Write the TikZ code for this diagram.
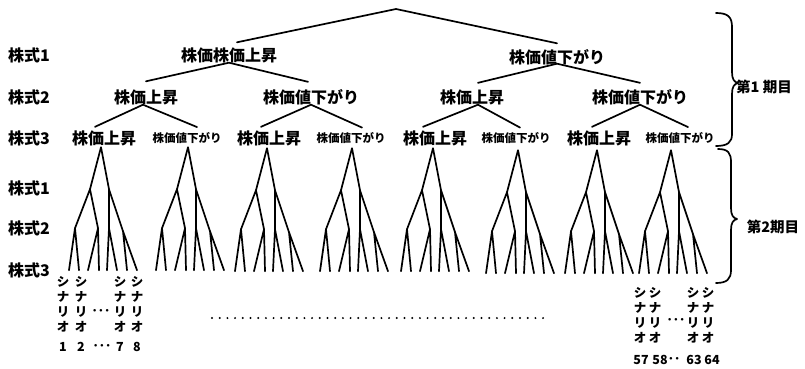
\documentclass[tikz,border=0pt]{standalone}
\usepackage{fontspec}
\setmainfont{Noto Sans CJK JP}
\usetikzlibrary{calc}
\newcommand\minitree[1]{%
\begin{scope}[shift={(#1)}]
\draw[tl] (-11,42) -- (0,0) -- (8,42);
\draw[tl] (-26,81) -- (-11,42) -- (-3,81);
\draw[tl] (8,81) -- (8,42) -- (22,84);
\draw[tl] (-32,123) -- (-26,81) -- (-22,123);
\draw[tl] (-13,123) -- (-3,81) -- (-2,123);
\draw[tl] (6,123) -- (8,81) -- (16,123);
\draw[tl] (26,123) -- (22,84) -- (36,123);
\end{scope}}
\newcommand\scencol[3]{%
\node[sc] (#1a) at (#2,#3) {シ};
\node[sc] (#1b) at (#2,#3+15) {ナ};
\node[sc] (#1c) at (#2,#3+30) {リ};
\node[sc] (#1d) at (#2,#3+45) {オ};}
\begin{document}
\begin{tikzpicture}[x=1pt,y=-1pt,
  tl/.style={line width=1.7pt,line cap=round,line join=round},
  big/.style={font=\fontsize{16}{16}\selectfont\bfseries,inner sep=0pt,text height=14.08pt,text depth=1.92pt},
  small/.style={font=\fontsize{11.5}{11.5}\selectfont\bfseries,inner sep=0pt,text height=10.12pt,text depth=1.38pt},
  per/.style={font=\fontsize{14.5}{14.5}\selectfont\bfseries,inner sep=0pt},
  sc/.style={font=\fontsize{12.5}{12.5}\selectfont\bfseries,inner sep=0pt}]
\useasboundingbox (0,0) rectangle (805,368);
% left labels
\node[big,anchor=west] (k1) at (8,55) {株式1};
\node[big,anchor=west] (k2) at (8,97) {株式2};
\node[big,anchor=west] (k3) at (8,138) {株式3};
\node[big,anchor=west] (k4) at (8,188) {株式1};
\node[big,anchor=west] (k5) at (8,228) {株式2};
\node[big,anchor=west] (k6) at (8,270) {株式3};
% upper tree
\coordinate (root) at (396,9);
\node[big] (A) at (229,55) {株価株価上昇};
\node[big] (B) at (557,57) {株価値下がり};
\node[big] (AA) at (146,97) {株価上昇};
\node[big] (AB) at (311,97) {株価値下がり};
\node[big] (BA) at (472,97) {株価上昇};
\node[big] (BB) at (640,97) {株価値下がり};
\node[big] (c1) at (104,138) {株価上昇};
\node[small] (c2) at (187,138) {株価値下がり};
\node[big] (c3) at (269,138) {株価上昇};
\node[small] (c4) at (351,138) {株価値下がり};
\node[big] (c5) at (435,138) {株価上昇};
\node[small] (c6) at (516,138) {株価値下がり};
\node[big] (c7) at (599,138) {株価上昇};
\node[small] (c8) at (680,138) {株価値下がり};
\draw[tl] ($(A.north)+(8,-4.5)$) -- (root) -- ($(B.north)+(0,-5.5)$);
\draw[tl] ($(AA.north)+(0,-7.5)$) -- ($(A.south)+(0,-0.5)$) -- ($(AB.north)+(-3,-7)$);
\draw[tl] ($(BA.north)+(6,-6)$) -- ($(B.south)+(0,-1.5)$) -- ($(BB.north)+(0,-6)$);
\draw[tl] ($(c1.north)+(-9,-3)$) -- ($(AA.south)+(-3,-0.5)$) -- ($(c2.north)+(10,-5)$);
\draw[tl] ($(c3.north)+(-8,-3)$) -- ($(AB.south)+(0,-0.5)$) -- ($(c4.north)+(11,-4.5)$);
\draw[tl] ($(c5.north)+(-12,-3)$) -- ($(BA.south)+(6,-0.5)$) -- ($(c6.north)+(4,-4.5)$);
\draw[tl] ($(c7.north)+(-7,-3)$) -- ($(BB.south)+(0,-0.5)$) -- ($(c8.north)+(8,-5)$);
% small trees
\coordinate (t1) at ($(c1.south)+(-3,1)$);
\coordinate (t2) at ($(c2.south)+(1,3.25)$);
\coordinate (t3) at ($(c3.south)+(-2,2)$);
\coordinate (t4) at ($(c4.south)+(1,4.25)$);
\coordinate (t5) at ($(c5.south)+(-2,2)$);
\coordinate (t6) at ($(c6.south)+(2,6.25)$);
\coordinate (t7) at ($(c7.south)+(-2,4)$);
\coordinate (t8) at ($(c8.south)+(-9,6.25)$);
\minitree{t1}\minitree{t2}\minitree{t3}\minitree{t4}
\minitree{t5}\minitree{t6}\minitree{t7}\minitree{t8}
% braces
\draw[tl] (716,13) .. controls (728,13) and (732,17) .. (732,27) -- (732,72)
  .. controls (732,79) and (734,82) .. (738,83) .. controls (734,84) and (732,87) .. (732,94)
  -- (732,134) .. controls (732,142) and (728,146) .. (716,146);
\draw[tl] (718,149) .. controls (728,149) and (731,153) .. (731,162) -- (731,208)
  .. controls (731,215) and (733,218) .. (737,219) .. controls (733,220) and (731,223) .. (731,230)
  -- (731,270) .. controls (731,279) and (727,283) .. (716,283);
\node[per] (p1) at (764,87) {第1 期目};
\node[per] (p2) at (773,227) {第2期目};
% scenario labels
\scencol{la}{63}{282}
\scencol{lb}{81}{282}
\scencol{lc}{120}{282}
\scencol{ld}{137}{282}
\node[sc] (ldots) at (101,312) {･･･};
\node[sc] (n1) at (63,347) {1};
\node[sc] (n2) at (81,347) {2};
\node[sc] (n3) at (102,347) {･･･};
\node[sc] (n7) at (120,347) {7};
\node[sc] (n8) at (137,347) {8};
\scencol{ra}{640}{293}
\scencol{rb}{655}{293}
\scencol{rc}{693}{293}
\scencol{rd}{708}{293}
\node[sc] (rdots) at (676,321) {･･･};
\node[sc] (m57) at (641,360) {57};
\node[sc] (m58) at (660,360) {58};
\node[sc] (mdd) at (674,360) {･･};
\node[sc] (m63) at (694,360) {63};
\node[sc] (m64) at (712,360) {64};
% dotted line
\coordinate (dl1) at (212,318);
\coordinate (dl2) at (550,318);
\draw[line width=2.2pt,line cap=round,dash pattern=on 0pt off 7.7pt] (dl1) -- (dl2);
\end{tikzpicture}
\end{document}
